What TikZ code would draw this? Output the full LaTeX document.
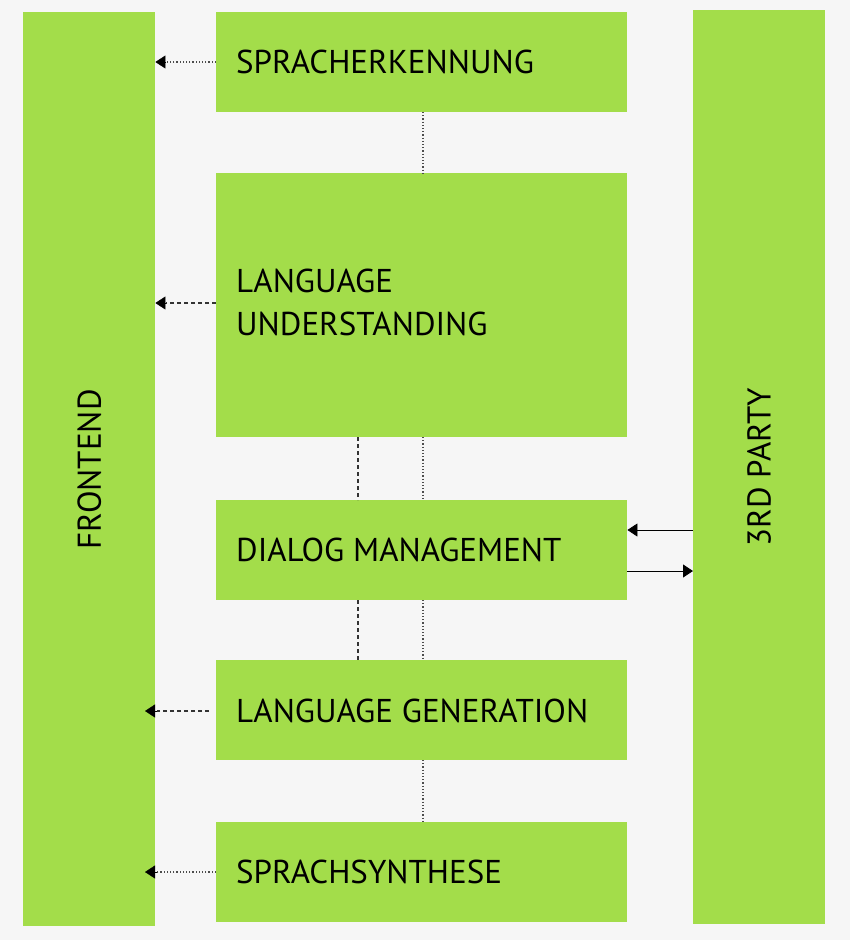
\documentclass[tikz,border=0pt]{standalone}
\usepackage{fontspec}
\setmainfont{PT Sans}
\usetikzlibrary{arrows.meta}
\definecolor{grn}{HTML}{A3DD4A}
\definecolor{bg}{HTML}{F6F6F6}
\tikzset{
  box/.style={fill=grn,draw=none,anchor=north west,inner sep=0pt},
  lbl/.style={anchor=west,font=\fontsize{33}{43}\selectfont,align=left,inner sep=0pt},
  dotc/.style={line width=1.2pt,dotted,black!70},
  dashc/.style={line width=1.2pt,dash pattern=on 4pt off 3pt,black!80},
  tip/.style={-{Triangle[length=10pt,width=13pt]}}
}
\begin{document}
\begin{tikzpicture}[x=1pt,y=-1pt]
\fill[bg] (0,0) rectangle (850,940);
\useasboundingbox (0,0) rectangle (850,940);
\node[box,minimum width=132pt,minimum height=914pt] (fe) at (23,12) {};
\node[box,minimum width=132pt,minimum height=914pt] (tp) at (693,10) {};
\node[rotate=90,font=\fontsize{33}{43}\selectfont] at (fe.center) {FRONTEND};
\node[rotate=90,font=\fontsize{33}{43}\selectfont] at (tp.center) {3RD PARTY};
\node[box,minimum width=411pt,minimum height=100pt] (se) at (216,12) {};
\node[box,minimum width=411pt,minimum height=264pt] (lu) at (216,173) {};
\node[box,minimum width=411pt,minimum height=100pt] (dm) at (216,500) {};
\node[box,minimum width=411pt,minimum height=100pt] (lg) at (216,660) {};
\node[box,minimum width=411pt,minimum height=100pt] (ss) at (216,822) {};
\node[lbl] at (236,62) {SPRACHERKENNUNG};
\node[lbl] at (236,302) {LANGUAGE\\UNDERSTANDING};
\node[lbl] at (236,550) {DIALOG MANAGEMENT};
\node[lbl] at (236,711) {LANGUAGE GENERATION};
\node[lbl] at (236,872) {SPRACHSYNTHESE};
% horizontal to frontend
\draw[dotc] (se.west |- 0,62) -- (166,62);
\draw[tip] (166,62) -- (fe.east |- 0,62);
\draw[dashc] (lu.west |- 0,303) -- (166,303);
\draw[tip] (166,303) -- (fe.east |- 0,303);
\draw[dashc] (209,711) -- (157,711);
\draw[tip] (157,711) -- (145,711);
\draw[dotc] (ss.west |- 0,872) -- (157,872);
\draw[tip] (157,872) -- (145,872);
% verticals
\draw[dotc] (423,112) -- (423,173);
\draw[dotc] (423,437) -- (423,500);
\draw[dotc] (423,600) -- (423,660);
\draw[dotc] (423,760) -- (423,822);
\draw[dashc] (358,437) -- (358,500);
\draw[dashc] (358,600) -- (358,660);
% third party
\draw[-{Triangle[length=10pt,width=13pt]},line width=0.8pt] (tp.west |- 0,530) -- (dm.east |- 0,530);
\draw[-{Triangle[length=10pt,width=13pt]},line width=0.8pt] (dm.east |- 0,571) -- (tp.west |- 0,571);
\end{tikzpicture}
\end{document}
